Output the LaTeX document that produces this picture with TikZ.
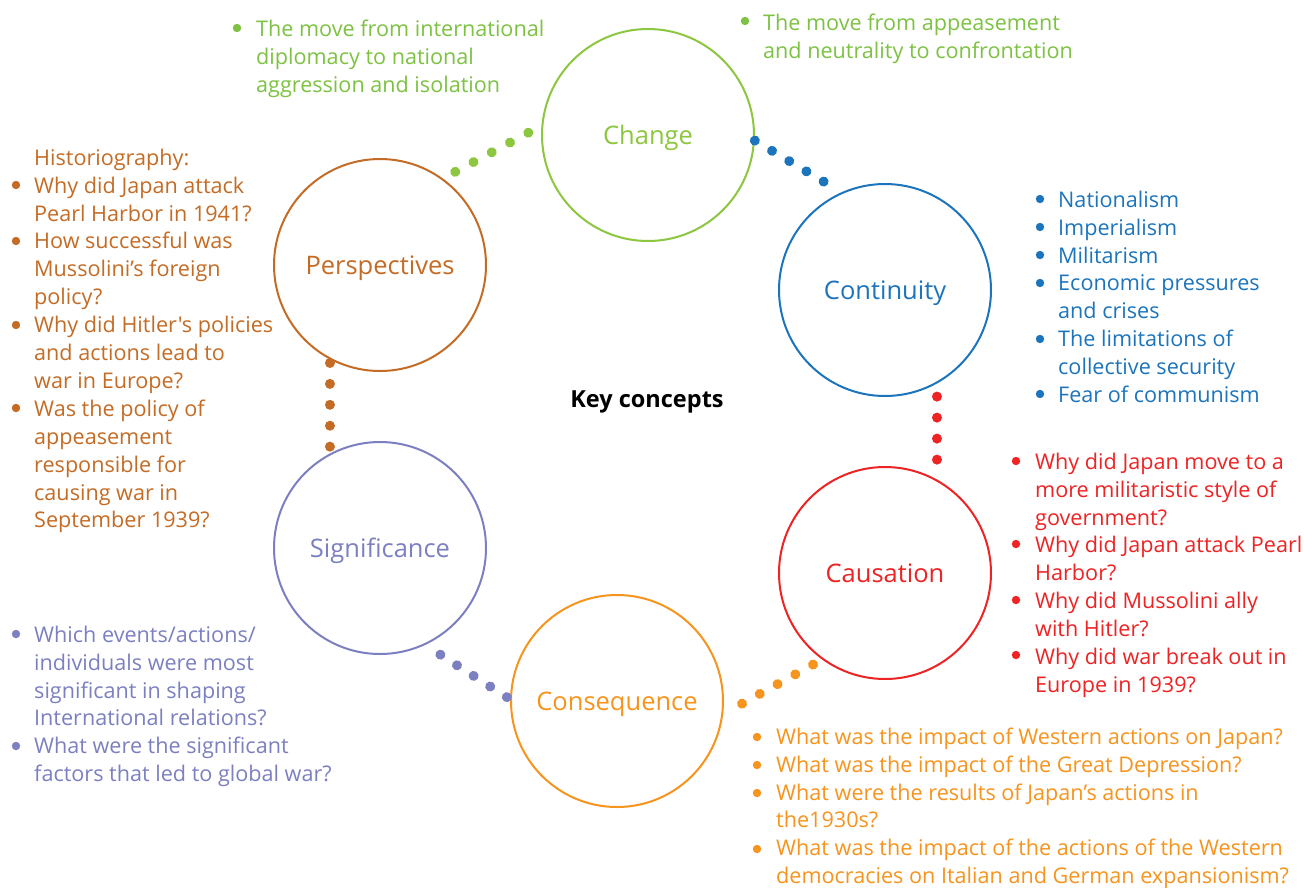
\documentclass[tikz,border=0pt]{standalone}
\usepackage{fontspec}
\setmainfont{Open Sans}[Ligatures=TeXOff]
\definecolor{cgreen}{RGB}{141,198,63}
\definecolor{tgreen}{RGB}{125,194,66}
\definecolor{cblue}{RGB}{28,117,188}
\definecolor{cred}{RGB}{237,35,36}
\definecolor{corange}{RGB}{247,148,29}
\definecolor{cpurple}{RGB}{124,128,192}
\definecolor{cbrown}{RGB}{196,108,38}
\begin{document}
\begin{tikzpicture}[x=1pt,y=-1pt,
  concept/.style={circle, draw=#1, text=#1, line width=2pt, minimum size=212pt, inner sep=0pt, text depth=0pt, font=\fontsize{25.5}{28}\selectfont},
  dotconn/.style={draw=#1, line width=10pt, line cap=round},
  txt/.style={anchor=north west, inner sep=0pt, align=left, text=#1, font=\fontsize{21.6}{27.9}\selectfont}]
\useasboundingbox[fill=white] (0,0) rectangle (1304,887);

% concept circles
\node[concept=cgreen] (change) at (648,135) {Change};
\node[concept=cbrown] (persp) at (380,265) {Perspectives};
\node[concept=cblue] (cont) at (885,290) {Continuity};
\node[concept=cpurple] (signif) at (380,548) {Significance};
\node[concept=cred] (caus) at (885,573) {Causation};
\node[concept=corange] (conseq) at (617,701) {Consequence};
\node[font=\fontsize{23.5}{26}\selectfont\bfseries] (key) at (647,402) {Key concepts};

% dotted connectors
\draw[dotconn=cgreen, dash pattern=on 0.01pt off 20.7pt, shorten <=14pt, shorten >=14pt] (persp.54) -- (change.175);
\draw[dotconn=cblue, dash pattern=on 0.01pt off 20pt, shorten >=19pt] (change.-3) -- (cont.114);
\draw[dotconn=cred, dash pattern=on 0.01pt off 21pt, shorten <=13pt, shorten >=18pt] (cont.-61) -- (caus.61);
\draw[dotconn=corange, dash pattern=on 0.01pt off 20.25pt, shorten <=21.5pt, shorten >=10pt] (conseq.-7) -- (caus.234);
\draw[dotconn=cpurple, dash pattern=on 0.01pt off 19.7pt, shorten <=18pt, shorten >=3pt] (signif.-65) -- (conseq.179);
\draw[dotconn=cbrown, dash pattern=on 0.01pt off 20.9pt, shorten <=3.5pt, shorten >=6pt] (persp.242) -- (signif.118);

% text blocks
\node[txt=tgreen] (chgL) at (256,16) {\rule{0pt}{20pt}The move from international\\diplomacy to national\\aggression and isolation};
\fill[tgreen] (237,28) circle[radius=4.2];

\node[txt=tgreen] (chgR) at (763,10) {\rule{0pt}{20pt}The move from appeasement\\and neutrality to confrontation};
\fill[tgreen] (745,21) circle[radius=4.2];

\node[txt=cbrown] (perspT) at (34,145) {\rule{0pt}{20pt}Historiography:\\Why did Japan attack\\Pearl Harbor in 1941?\\How successful was\\Mussolini’s foreign\\policy?\\Why did Hitler's policies\\and actions lead to\\war in Europe?\\Was the policy of\\appeasement\\responsible for\\causing war in\\September 1939?};
\foreach \yy in {185,241,325,408} \fill[cbrown] (16,\yy) circle[radius=4.2];

\node[txt=cblue] (contT) at (1058,187) {\rule{0pt}{20pt}Nationalism\\Imperialism\\Militarism\\Economic pressures\\and crises\\The limitations of\\collective security\\Fear of communism};
\foreach \yy in {199,227,255,283,339,394} \fill[cblue] (1040,\yy) circle[radius=4.2];

\node[txt=cred] (causT) at (1035,449) {\rule{0pt}{20pt}Why did Japan move to a\\more militaristic style of\\government?\\Why did Japan attack Pearl\\Harbor?\\Why did Mussolini ally\\with Hitler?\\Why did war break out in\\Europe in 1939?};
\foreach \yy in {461,544,600,655} \fill[cred] (1016,\yy) circle[radius=4.2];

\node[txt=cpurple] (sigT) at (34,622) {\rule{0pt}{20pt}Which events/actions/\\individuals were most\\significant in shaping\\International relations?\\What were the significant\\factors that led to global war?};
\foreach \yy in {634,746} \fill[cpurple] (16,\yy) circle[radius=4.2];

\node[txt=corange] (consT) at (776,724) {\rule{0pt}{20pt}What was the impact of Western actions on Japan?\\What was the impact of the Great Depression?\\What were the results of Japan’s actions in\\the1930s?\\What was the impact of the actions of the Western\\democracies on Italian and German expansionism?};
\foreach \yy in {737,765,793,849} \fill[corange] (757,\yy) circle[radius=4.2];
\end{tikzpicture}
\end{document}
